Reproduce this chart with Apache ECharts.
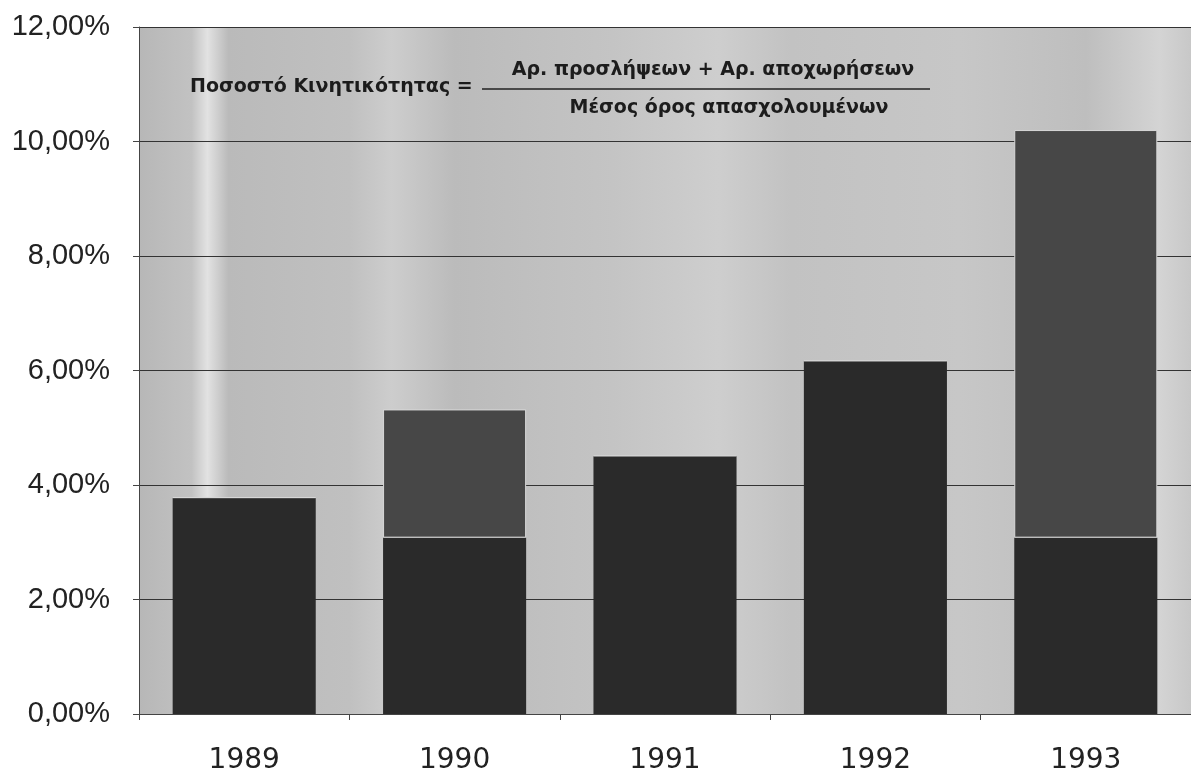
<!DOCTYPE html>
<html>
<head>
<meta charset="utf-8">
<script src="https://cdn.jsdelivr.net/npm/echarts@6/dist/echarts.min.js"></script>
<style>
  html, body { margin: 0; padding: 0; background: #fff; }
  #chart { width: 1191px; height: 775px; }
</style>
</head>
<body>
<div id="chart"></div>
<script>
// data
const years = ["1989", "1990", "1991", "1992", "1993"];
const baseRate = [3.78, 3.08, 4.51, 6.17, 3.08];
const extraRate = [0, 2.24, 0, 0, 7.12];
const formulaLeft = "Ποσοστό Κινητικότητας =";
const formulaTop = "Αρ. προσλήψεων + Αρ. αποχωρήσεων";
const formulaBottom = "Μέσος όρος απασχολουμένων";

const chart = echarts.init(document.getElementById("chart"));

const fmt = v => v.toFixed(2).replace(".", ",") + "%";
const formulaFont = "bold 19px 'DejaVu Sans', sans-serif";

const option = {
  backgroundColor: "#ffffff",
  animation: false,
  grid: {
    left: 139,
    right: 0,
    top: 27,
    bottom: 61,
    show: true,
    borderWidth: 0,
    backgroundColor: new echarts.graphic.LinearGradient(0, 0, 1, 0, [
      { offset: 0.0, color: "#b7b7b7" },
      { offset: 0.05, color: "#c2c2c2" },
      { offset: 0.065, color: "#e2e2e2" },
      { offset: 0.085, color: "#bababa" },
      { offset: 0.2, color: "#c0c0c0" },
      { offset: 0.24, color: "#cdcdcd" },
      { offset: 0.3, color: "#bbbbbb" },
      { offset: 0.45, color: "#c4c4c4" },
      { offset: 0.55, color: "#cecece" },
      { offset: 0.62, color: "#c2c2c2" },
      { offset: 0.78, color: "#c7c7c7" },
      { offset: 0.9, color: "#bebebe" },
      { offset: 0.97, color: "#d4d4d4" },
      { offset: 1.0, color: "#c8c8c8" }
    ])
  },
  xAxis: {
    type: "category",
    data: years,
    axisLine: { show: true, lineStyle: { color: "#444", width: 1 } },
    axisTick: { show: true, inside: false, length: 6, lineStyle: { color: "#444" } },
    axisLabel: {
      margin: 33,
      fontFamily: "DejaVu Sans, sans-serif",
      fontSize: 28,
      color: "#222"
    }
  },
  yAxis: {
    type: "value",
    min: 0,
    max: 12,
    interval: 2,
    axisLine: { show: true, lineStyle: { color: "#444", width: 1 } },
    axisTick: { show: true, length: 6, lineStyle: { color: "#444" } },
    splitLine: { show: true, lineStyle: { color: "#333", width: 1 } },
    axisLabel: {
      margin: 29,
      fontFamily: "Liberation Sans, Arial, sans-serif",
      fontSize: 29,
      color: "#222",
      formatter: fmt
    }
  },
  series: [
    {
      type: "bar",
      name: "base",
      stack: "rate",
      barWidth: "68%",
      data: baseRate,
      itemStyle: { color: "#2a2a2a" }
    },
    {
      type: "bar",
      name: "extra",
      stack: "rate",
      barWidth: "68%",
      data: extraRate,
      itemStyle: { color: "#474747", borderColor: "#d8d8d8", borderWidth: 1 }
    }
  ],
  graphic: [
    {
      type: "text",
      x: 190,
      y: 87,
      style: {
        text: formulaLeft,
        font: formulaFont,
        fill: "#1c1c1c",
        textAlign: "left",
        textVerticalAlign: "middle"
      }
    },
    {
      type: "text",
      x: 713,
      y: 70,
      style: {
        text: formulaTop,
        font: formulaFont,
        fill: "#1c1c1c",
        textAlign: "center",
        textVerticalAlign: "middle"
      }
    },
    {
      type: "line",
      shape: { x1: 482, y1: 89, x2: 930, y2: 89 },
      style: { stroke: "#222", lineWidth: 1.5 }
    },
    {
      type: "text",
      x: 729,
      y: 108,
      style: {
        text: formulaBottom,
        font: formulaFont,
        fill: "#1c1c1c",
        textAlign: "center",
        textVerticalAlign: "middle"
      }
    }
  ]
};

chart.setOption(option);
</script>
</body>
</html>
